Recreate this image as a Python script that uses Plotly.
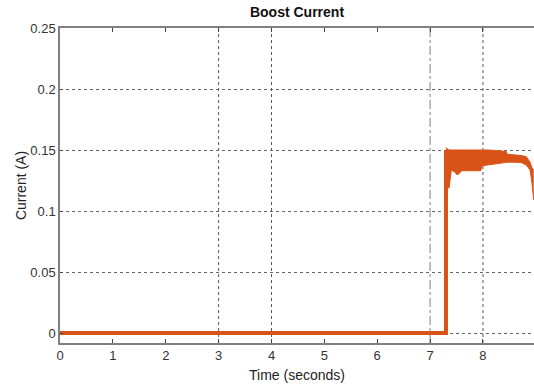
import plotly.graph_objects as go

# ---- data ----
t_step = [0.0, 7.30, 7.30]
i_step = [0.0, 0.0, 0.150]

t_band = [7.30, 7.32, 7.36, 7.40, 7.47, 7.50, 7.53, 7.60, 7.96, 7.98, 8.10, 8.26, 8.44, 8.46, 8.60, 8.72, 8.82, 8.89, 8.92, 8.96]
i_upper = [0.152, 0.151, 0.150, 0.150, 0.1505, 0.150, 0.150, 0.150, 0.150, 0.150, 0.150, 0.1495, 0.1488, 0.1465, 0.1462, 0.1455, 0.1445, 0.140, 0.136, 0.1335]
i_lower = [0.100, 0.119, 0.119, 0.1335, 0.132, 0.130, 0.130, 0.133, 0.133, 0.137, 0.1378, 0.139, 0.140, 0.140, 0.140, 0.1398, 0.1377, 0.1336, 0.1254, 0.109]

x_ticks = [0, 1, 2, 3, 4, 5, 6, 7, 8]
y_ticks = [0, 0.05, 0.1, 0.15, 0.2, 0.25]
grid_x_dark = [3, 4, 8]
grid_x_light = [7]

ORANGE = "#D95319"
FONT = "Liberation Sans, Arial, sans-serif"

fig = go.Figure()
fig.add_trace(go.Scatter(x=t_band, y=i_upper, mode="lines",
                         line=dict(color=ORANGE, width=1), hoverinfo="skip"))
fig.add_trace(go.Scatter(x=t_band, y=i_lower, mode="lines", fill="tonexty",
                         fillcolor=ORANGE, line=dict(color=ORANGE, width=1)))
fig.add_trace(go.Scatter(x=t_step, y=i_step, mode="lines",
                         line=dict(color=ORANGE, width=4)))

shapes = []
for gx in grid_x_dark:
    shapes.append(dict(type="line", xref="x", yref="paper", x0=gx, x1=gx, y0=0, y1=1,
                       line=dict(color="#555555", width=1, dash="dot"), layer="below"))
for gx in grid_x_light:
    shapes.append(dict(type="line", xref="x", yref="paper", x0=gx, x1=gx, y0=0, y1=1,
                       line=dict(color="#aaaaaa", width=1.5, dash="dashdot"), layer="below"))

fig.update_layout(
    width=534, height=389,
    margin=dict(l=60, r=0, t=28, b=46),
    paper_bgcolor="white", plot_bgcolor="white",
    showlegend=False,
    shapes=shapes,
    title=dict(text="<b>Boost Current</b>", x=0.5, xref="paper", xanchor="center",
               y=1 - 12 / 389, yanchor="middle", font=dict(family=FONT, size=14, color="#111")),
    font=dict(family=FONT, size=13, color="#333"),
)
fig.update_xaxes(
    range=[0, 8.965], tickvals=x_ticks, showgrid=False, zeroline=False,
    showline=True, linecolor="#808080", linewidth=1.5, mirror="ticks",
    ticks="inside", ticklen=4, tickcolor="#444",
    tickfont=dict(family=FONT, size=13, color="#333"),
    title=dict(text="Time (seconds)", font=dict(family=FONT, size=14, color="#222"), standoff=8),
)
fig.update_yaxes(
    range=[-0.0082, 0.25], tickvals=y_ticks, showgrid=True, gridcolor="#666",
    griddash="dot", gridwidth=1, zeroline=False,
    showline=True, linecolor="#808080", linewidth=1.5,
    ticks="inside", ticklen=3, tickcolor="#444",
    tickfont=dict(family=FONT, size=13, color="#333"),
    title=dict(text="Current (A)", font=dict(family=FONT, size=14, color="#222"), standoff=0),
)

fig.write_html("out.html")
